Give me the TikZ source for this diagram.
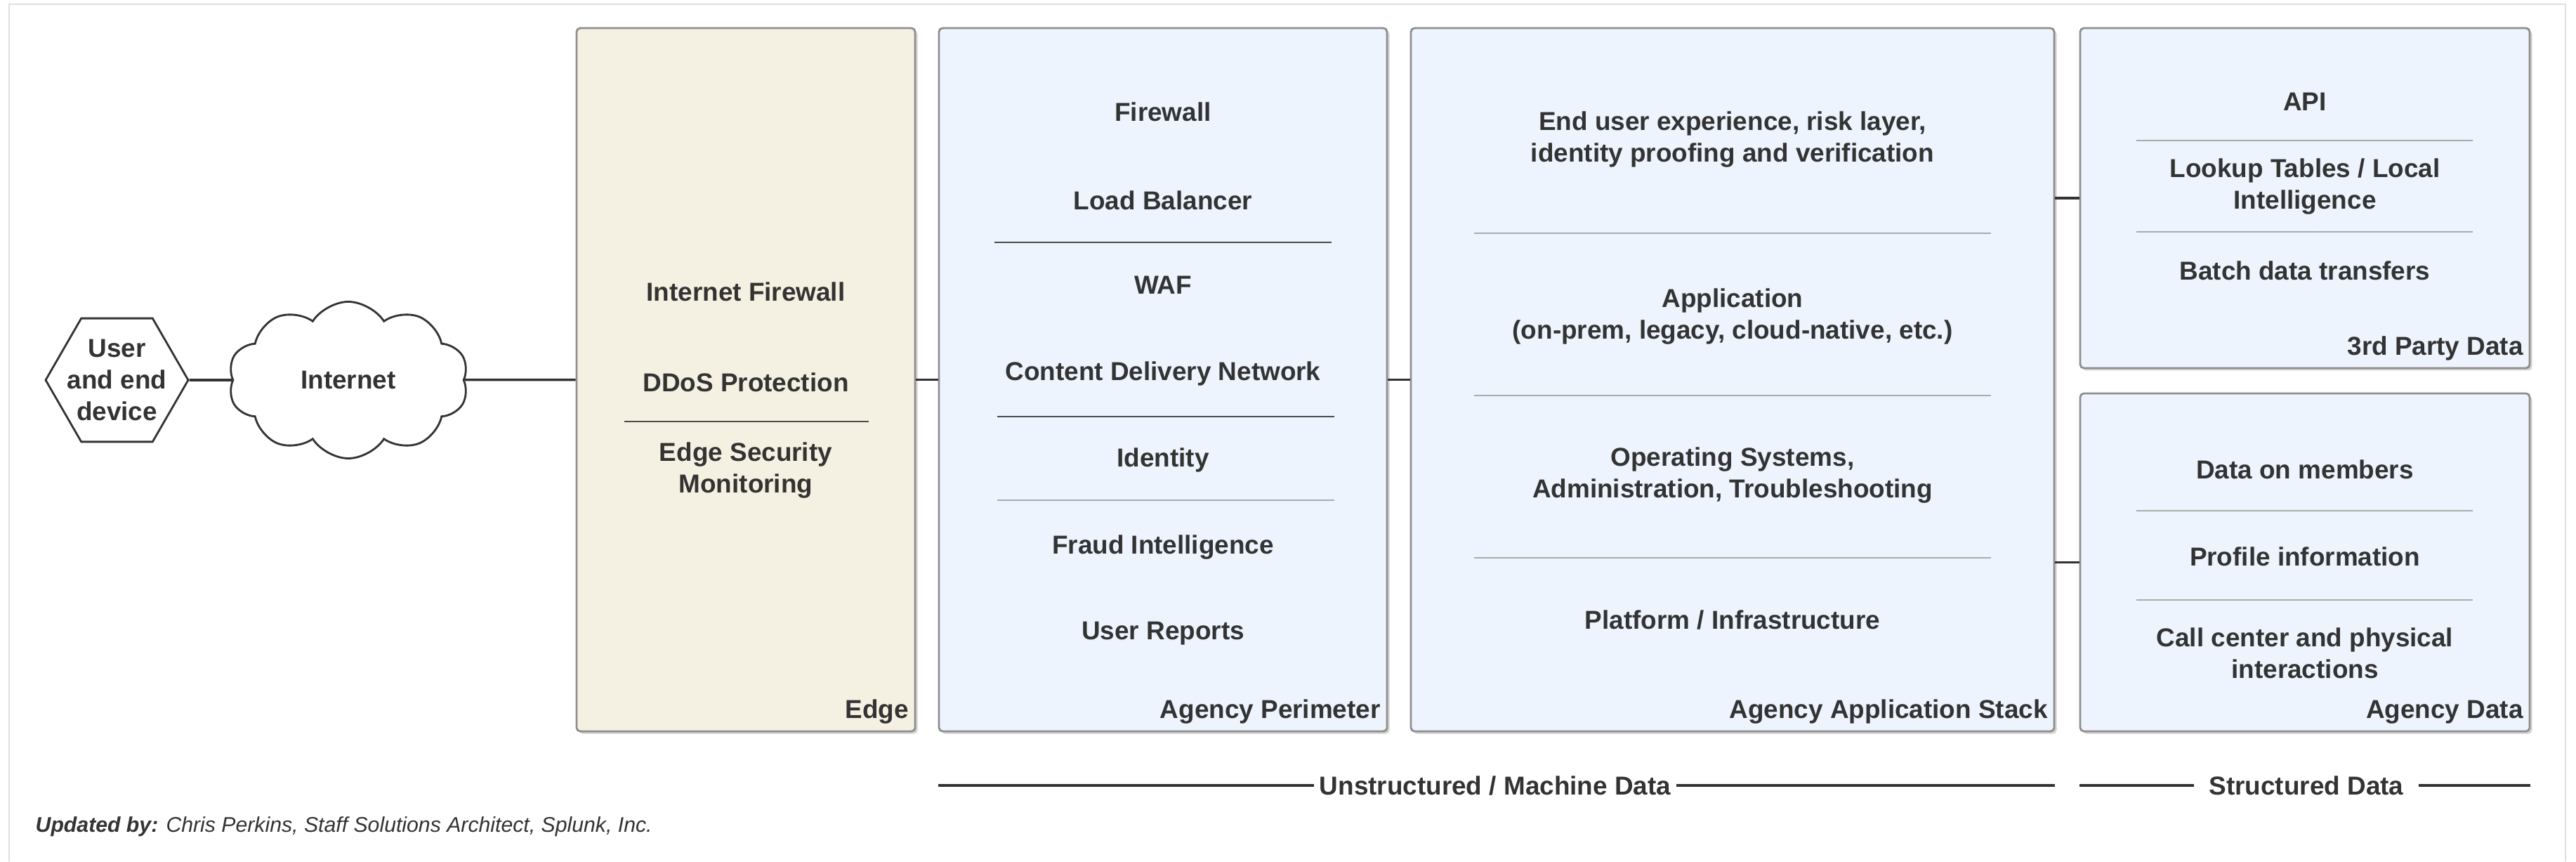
\documentclass[tikz,border=0pt]{standalone}
\usepackage{fontspec}
\setmainfont{Liberation Sans}
\usetikzlibrary{shapes.geometric,shapes.symbols,shadows,calc}

\definecolor{inkgray}{HTML}{333333}
\definecolor{boxline}{HTML}{8E8E8E}
\definecolor{edgefill}{HTML}{F5F1E2}
\definecolor{zonefill}{HTML}{EDF4FD}
\definecolor{rulegray}{HTML}{ABABAB}
\definecolor{ruledark}{HTML}{4A4A4A}

\tikzset{
	zone/.style={draw=boxline, line width=0.8pt, rounded corners=1.5pt,
		drop shadow={opacity=0.35, shadow xshift=0.035cm, shadow yshift=-0.035cm}},
	zonelabel/.style={anchor=base east, inner sep=0pt},
	item/.style={align=center},
	link/.style={draw=inkgray, line width=1pt},
	sepdark/.style={draw=ruledark, line width=0.7pt},
	seplight/.style={draw=rulegray, line width=0.6pt},
}

\begin{document}
\begin{tikzpicture}[font=\fontsize{10.5}{12.8}\selectfont\bfseries, text=inkgray]
	\useasboundingbox (0,0) rectangle (36.68,12.26);
	% page edge
	\draw[gray!25, line width=0.6pt] (0.13,0) -- (0.13,12.20) -- (36.53,12.20) -- (36.53,0);

	% user and internet
	\node[regular polygon, regular polygon sides=6, minimum size=2.03cm, inner sep=0pt,
		draw=inkgray, line width=0.8pt] (user) at (1.665,6.85) {};
	\node[item] at (user) {User\\and end\\device};
	\node[cloud, cloud puffs=10, cloud puff arc=115, cloud ignores aspect,
		minimum width=3.42cm, minimum height=2.23cm, draw=inkgray, line width=0.8pt]
		(net) at (4.96,6.85) {Internet};

	% zones
	\node[zone, fill=edgefill, minimum width=4.82cm, minimum height=10.01cm] (edge) at (10.62,6.855) {};
	\node[zone, fill=zonefill, minimum width=6.38cm, minimum height=10.01cm] (perim) at (16.56,6.855) {};
	\node[zone, fill=zonefill, minimum width=9.16cm, minimum height=10.01cm] (stack) at (24.67,6.855) {};
	\node[zone, fill=zonefill, minimum width=6.40cm, minimum height=4.84cm] (third) at (32.82,9.44) {};
	\node[zone, fill=zonefill, minimum width=6.40cm, minimum height=4.81cm] (agdata) at (32.82,4.255) {};

	\node[zonelabel] at ($(edge.south east)+(-0.1,0.2)$) {Edge};
	\node[zonelabel] at ($(perim.south east)+(-0.1,0.2)$) {Agency Perimeter};
	\node[zonelabel] at ($(stack.south east)+(-0.1,0.2)$) {Agency Application Stack};
	\node[zonelabel] at ($(third.south east)+(-0.1,0.2)$) {3rd Party Data};
	\node[zonelabel] at ($(agdata.south east)+(-0.1,0.2)$) {Agency Data};

	% edge
	\node[item] at (10.62,8.11) {Internet Firewall};
	\node[item] at (10.62,6.82) {DDoS Protection};
	\draw[sepdark] (8.89,6.26) -- (12.37,6.26);
	\node[item] at (10.62,5.56) {Edge Security\\Monitoring};

	% perimeter
	\node[item] at (16.56,10.67) {Firewall};
	\node[item] at (16.56,9.41) {Load Balancer};
	\draw[sepdark] (14.16,8.81) -- (18.96,8.81);
	\node[item] at (16.56,8.20) {WAF};
	\node[item] at (16.56,6.94) {Content Delivery Network};
	\draw[sepdark] (14.20,6.33) -- (19.00,6.33);
	\node[item] at (16.56,5.71) {Identity};
	\draw[seplight] (14.20,5.14) -- (19.00,5.14);
	\node[item] at (16.56,4.47) {Fraud Intelligence};
	\node[item] at (16.56,3.24) {User Reports};

	% application stack
	\node[item] at (24.67,10.27) {End user experience, risk layer,\\identity proofing and verification};
	\draw[seplight] (20.99,8.94) -- (28.35,8.94);
	\node[item] at (24.67,7.75) {Application\\(on-prem, legacy, cloud-native, etc.)};
	\draw[seplight] (20.99,6.63) -- (28.35,6.63);
	\node[item] at (24.67,5.49) {Operating Systems,\\Administration, Troubleshooting};
	\draw[seplight] (20.99,4.32) -- (28.35,4.32);
	\node[item] at (24.67,3.44) {Platform / Infrastructure};

	% 3rd party
	\node[item] at (32.82,10.81) {API};
	\draw[seplight] (30.42,10.26) -- (35.21,10.26);
	\node[item] at (32.82,9.60) {Lookup Tables / Local\\Intelligence};
	\draw[seplight] (30.42,8.96) -- (35.21,8.96);
	\node[item] at (32.82,8.41) {Batch data transfers};

	% agency data
	\node[item] at (32.82,5.58) {Data on members};
	\draw[seplight] (30.42,4.99) -- (35.21,4.99);
	\node[item] at (32.82,4.34) {Profile information};
	\draw[seplight] (30.42,3.72) -- (35.21,3.72);
	\node[item] at (32.82,2.96) {Call center and physical\\interactions};

	% connectors
	\draw[link] (user) -- (net);
	\draw[link] (net) -- (edge);
	\draw[link] (edge) -- (perim);
	\draw[link] (perim) -- (stack);
	\draw[link] (stack.east |- third.west) -- (third.west);
	\draw[link] (stack.east |- agdata.west) -- (agdata.west);

	% data kinds
	\node[inner xsep=2pt] (unstr) at (21.29,1.08) {Unstructured / Machine Data};
	\draw[link, line width=0.9pt] (perim.west |- unstr) -- (unstr.west);
	\draw[link, line width=0.9pt] (unstr.east) -- (stack.east |- unstr);
	\node[inner xsep=6pt] (struc) at (32.84,1.08) {Structured Data};
	\draw[link, line width=0.9pt] (third.west |- struc) -- (struc.west);
	\draw[link, line width=0.9pt] (struc.east) -- (third.east |- struc);

	% credit
	\node[anchor=west, inner sep=0pt, font=\fontsize{8.6}{10}\selectfont\itshape] (credit) at (0.50,0.49)
		{\textbf{Updated by:} Chris Perkins, Staff Solutions Architect, Splunk, Inc.};
\end{tikzpicture}
\end{document}
